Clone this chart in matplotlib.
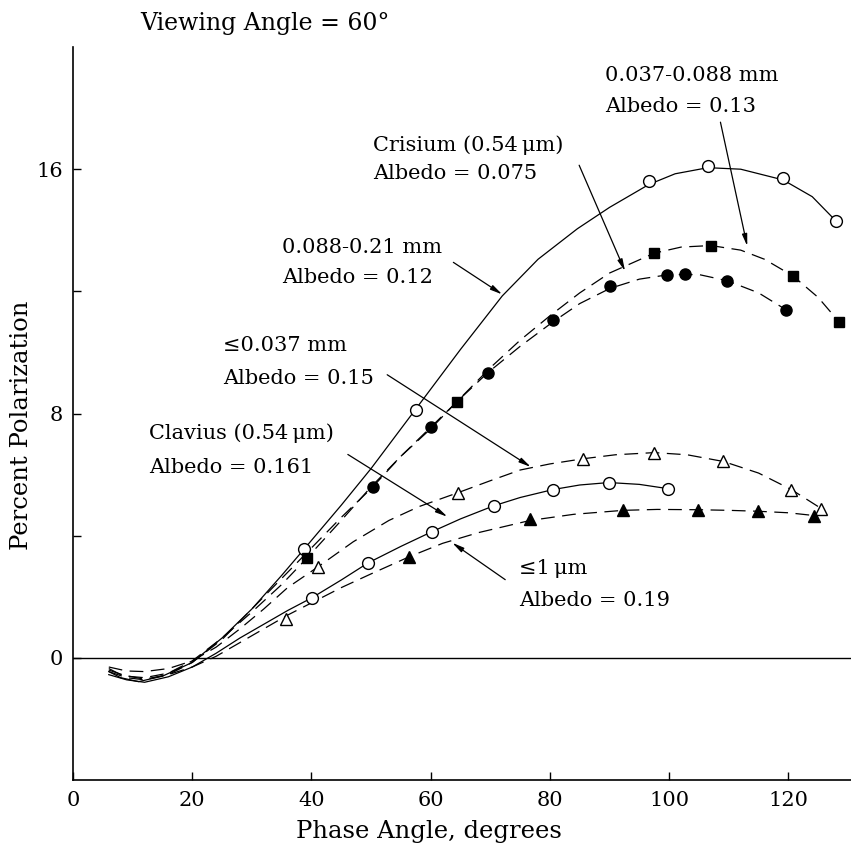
import matplotlib
matplotlib.use("Agg")
import matplotlib.pyplot as plt

plt.rcParams['font.family'] = ['DejaVu Serif']

# marker data (phase angle deg, percent polarization)
big_open_x = [38.8, 57.6, 96.6, 106.5, 119.1, 128.0]
big_open_y = [3.57, 8.10, 15.6, 16.1, 15.7, 14.3]

fcirc_x = [50.3, 60.0, 69.6, 80.5, 90.1, 99.7, 102.7, 109.7, 119.6]
fcirc_y = [5.6, 7.55, 9.34, 11.05, 12.16, 12.52, 12.56, 12.33, 11.38]

fsq_x = [39.3, 64.4, 97.5, 107.0, 120.8, 128.5]
fsq_y = [3.28, 8.39, 13.25, 13.5, 12.5, 11.0]

otri_x = [35.7, 41.1, 64.6, 85.6, 97.5, 109.1, 120.5, 125.5]
otri_y = [1.28, 2.98, 5.41, 6.52, 6.72, 6.43, 5.51, 4.89]

clav_x = [40.1, 49.5, 60.2, 70.6, 80.5, 89.9, 99.8]
clav_y = [1.97, 3.11, 4.13, 4.98, 5.51, 5.74, 5.54]

ftri_x = [56.4, 76.7, 92.3, 104.9, 114.9, 124.3]
ftri_y = [3.31, 4.56, 4.85, 4.85, 4.82, 4.66]

# traced curves
curveA_x = [6, 8, 11, 15, 20, 25, 30, 35, 38.8, 45, 50, 58.7, 65, 72, 78, 84.6, 90, 96.6, 101, 106.5, 112, 119.1, 124, 128]
curveA_y = [-0.45, -0.65, -0.78, -0.6, -0.15, 0.65, 1.6, 2.7, 3.57, 5.0, 6.2, 8.46, 10.1, 11.85, 13.05, 14.05, 14.75, 15.5, 15.85, 16.05, 16.0, 15.65, 15.1, 14.3]

curveB_x = [6, 8, 12, 16, 20, 25, 30, 35, 40, 45, 50.3, 55, 60, 65, 69.6, 75, 80.5, 85, 90.1, 95, 100, 105, 109.7, 115, 120]
curveB_y = [-0.35, -0.55, -0.7, -0.55, -0.15, 0.6, 1.6, 2.6, 3.6, 4.6, 5.6, 6.6, 7.55, 8.5, 9.34, 10.2, 11.0, 11.6, 12.1, 12.4, 12.55, 12.55, 12.35, 11.95, 11.35]

curveC_x = [6, 9, 12, 16, 20, 25, 30, 35, 39.3, 45, 50, 55, 60, 64.4, 70, 75, 80, 85, 90, 97.5, 102, 107, 112, 116, 120.8, 125, 128.5]
curveC_y = [-0.4, -0.6, -0.65, -0.5, -0.1, 0.65, 1.5, 2.4, 3.28, 4.5, 5.6, 6.6, 7.5, 8.39, 9.5, 10.4, 11.2, 11.95, 12.6, 13.25, 13.45, 13.5, 13.35, 13.05, 12.5, 11.8, 11.0]

curveD_x = [6, 9, 12, 16, 20, 24, 28, 32, 36, 41.1, 47, 53, 58, 64.6, 70, 75, 80, 85.6, 91, 97.5, 103, 109.1, 115, 120.5, 125.5]
curveD_y = [-0.3, -0.43, -0.45, -0.35, -0.1, 0.35, 0.95, 1.6, 2.3, 2.98, 3.8, 4.5, 4.95, 5.41, 5.8, 6.15, 6.35, 6.52, 6.65, 6.72, 6.65, 6.43, 6.05, 5.51, 4.89]

curveE_x = [6, 9, 12, 16, 20, 24, 28, 32, 36, 40.1, 45, 49.5, 55, 60.2, 65, 70.6, 75, 80.5, 85, 89.9, 95, 99.8]
curveE_y = [-0.55, -0.72, -0.8, -0.62, -0.3, 0.15, 0.65, 1.1, 1.55, 1.97, 2.55, 3.11, 3.65, 4.13, 4.55, 4.98, 5.25, 5.51, 5.66, 5.74, 5.68, 5.54]

curveF_x = [6, 9, 12, 16, 20, 24, 28, 32, 36, 40, 45, 50, 56.4, 62, 68, 76.7, 84, 92.3, 98, 104.9, 110, 114.9, 120, 124.3]
curveF_y = [-0.45, -0.65, -0.72, -0.55, -0.3, 0.05, 0.5, 0.95, 1.4, 1.8, 2.3, 2.75, 3.31, 3.75, 4.1, 4.5, 4.7, 4.83, 4.86, 4.85, 4.83, 4.8, 4.75, 4.66]

fig = plt.figure(figsize=(8.51, 8.46), dpi=100)
ax = fig.add_axes([0.0858, 0.078, 0.9142, 0.8664])

lw = 0.9
dash = (11, 6)
ax.plot(curveA_x, curveA_y, color='black', lw=lw)
ax.plot(curveB_x, curveB_y, color='black', lw=lw, dashes=dash)
ax.plot(curveC_x, curveC_y, color='black', lw=lw, dashes=dash)
ax.plot(curveD_x, curveD_y, color='black', lw=lw, dashes=dash)
ax.plot(curveE_x, curveE_y, color='black', lw=lw)
ax.plot(curveF_x, curveF_y, color='black', lw=lw, dashes=dash)

ax.plot(big_open_x, big_open_y, 'o', ms=8.5, mfc='white', mec='black', mew=1.0, zorder=5)
ax.plot(clav_x, clav_y, 'o', ms=8.5, mfc='white', mec='black', mew=1.0, zorder=5)
ax.plot(fcirc_x, fcirc_y, 'o', ms=8, color='black', zorder=5)
ax.plot(fsq_x, fsq_y, 's', ms=7.5, color='black', zorder=5)
ax.plot(otri_x, otri_y, '^', ms=9, mfc='white', mec='black', mew=1.0, zorder=5)
ax.plot(ftri_x, ftri_y, '^', ms=8.5, color='black', zorder=5)

ax.axhline(0, color='black', lw=1.0)

fs = 15
labels = [
    (89.3, 18.89, "0.037-0.088 mm"), (89.3, 17.88, "Albedo = 0.13"),
    (50.3, 16.60, "Crisium (0.54\u2009\u03bcm)"), (50.3, 15.68, "Albedo = 0.075"),
    (35.1, 13.26, "0.088-0.21 mm"), (35.1, 12.28, "Albedo = 0.12"),
    (25.2, 10.05, "\u22640.037 mm"), (25.2, 8.97, "Albedo = 0.15"),
    (12.75, 7.17, "Clavius (0.54\u2009\u03bcm)"), (12.75, 6.06, "Albedo = 0.161"),
    (74.8, 2.75, "\u22641\u2009\u03bcm"), (74.8, 1.70, "Albedo = 0.19"),
]
for x, y, s in labels:
    ax.text(x, y, s, fontsize=fs, ha='left', va='baseline')

arrows = [
    ((108.6, 17.54), (113.1, 13.48)),
    ((84.9, 16.13), (92.6, 12.66)),
    ((63.8, 12.95), (72.0, 11.9)),
    ((52.7, 9.27), (76.8, 6.25)),
    ((46.1, 6.66), (62.8, 4.62)),
    ((72.5, 2.56), (63.6, 3.77)),
]
for tail, head in arrows:
    ax.annotate('', xy=head, xytext=tail,
                arrowprops=dict(arrowstyle='-|>,head_length=0.7,head_width=0.15',
                                color='black', lw=0.9, shrinkA=0, shrinkB=0))

fig.text(0.1645, 0.9645, "Viewing Angle = 60\u00b0", fontsize=17, ha='left', va='baseline')

ax.set_xlim(0, 130.5)
ax.set_ylim(-4, 20)
ax.set_xticks([0, 20, 40, 60, 80, 100, 120])
ax.set_yticks([0, 4, 8, 12, 16])
ax.set_yticklabels(['0', '', '8', '', '16'])
ax.tick_params(direction='in', length=6, width=1, labelsize=15)
ax.tick_params(axis='x', pad=8)
ax.tick_params(axis='y', pad=7)
for side in ['top', 'right']:
    ax.spines[side].set_visible(False)
for side in ['left', 'bottom']:
    ax.spines[side].set_linewidth(1.2)

ax.set_xlabel("Phase Angle, degrees", fontsize=17.5)
ax.set_ylabel("Percent Polarization", fontsize=17.5)
ax.xaxis.set_label_coords(0.457, -0.054)
ax.yaxis.set_label_coords(-0.051, 0.484)

fig.savefig("out.png", dpi=100)
